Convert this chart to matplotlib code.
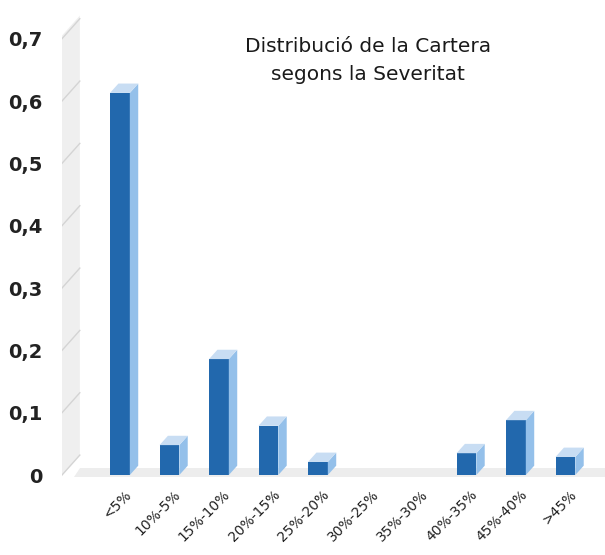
import matplotlib.pyplot as plt
from matplotlib.patches import Polygon
from matplotlib.transforms import ScaledTranslation

categories = ['<5%', '10%-5%', '15%-10%', '20%-15%', '25%-20%', '30%-25%',
              '35%-30%', '40%-35%', '45%-40%', '>45%']
values = [0.613, 0.048, 0.186, 0.079, 0.021, 0.0, 0.0, 0.035, 0.088, 0.029]
yticks = [0, 0.1, 0.2, 0.3, 0.4, 0.5, 0.6, 0.7]
ylabels = ['0', '0,1', '0,2', '0,3', '0,4', '0,5', '0,6', '0,7']
title = 'Distribució de la Cartera\nsegons la Severitat'

front = '#2268ad'
side = '#94c0ea'
top = '#c8ddf3'
wall = '#efefef'

plt.rcParams['font.family'] = ['DejaVu Sans']

fig = plt.figure(figsize=(6.05, 5.55), dpi=100)
ax = fig.add_axes([62 / 605, 65 / 555, 543 / 605, 480 / 555])
ax.set_xlim(-1.17, 9.8)
ax.set_ylim(-0.024, 0.746)
for s in ax.spines.values():
    s.set_visible(False)

# 3d-ish depth offsets (data units)
dx = 0.17
dy = 0.015
wall_w = 0.36
wall_h = 0.032
x0 = -1.17

# back wall + floor
ax.add_patch(Polygon([(x0, 0), (x0 + wall_w, wall_h), (x0 + wall_w, 0.7 + wall_h + 0.005),
                      (x0, 0.7 + 0.005)], closed=True, fc=wall, ec='none', zorder=0))
ax.add_patch(Polygon([(x0 + 0.25, -0.003), (9.8, -0.003), (9.8, 0.011), (x0 + wall_w, 0.011)],
                     closed=True, fc='#ededed', ec='none', zorder=0))
for v in yticks:
    ax.plot([x0, x0 + wall_w], [v, v + wall_h], color='#d4d4d4', lw=1, zorder=1)

# bars
w = 0.4
for i, v in enumerate(values):
    if v <= 0:
        continue
    l, r = i - w / 2, i + w / 2
    ax.bar(i, v, width=w, color=front, zorder=3)
    ax.add_patch(Polygon([(r, 0), (r + dx, dy), (r + dx, v + dy), (r, v)],
                         closed=True, fc=side, ec='none', zorder=3))
    ax.add_patch(Polygon([(l, v), (r, v), (r + dx, v + dy), (l + dx, v + dy)],
                         closed=True, fc=top, ec='none', zorder=3))

ax.set_yticks(yticks)
ax.set_yticklabels(ylabels, fontsize=14, fontweight='bold', color='#222222')
ax.tick_params(axis='y', length=0, pad=14)

ax.set_xticks(range(len(categories)))
ax.set_xticklabels(categories, rotation=45, ha='right', rotation_mode='anchor',
                   fontsize=10, color='#222222')
ax.tick_params(axis='x', length=0, pad=0)
for lab in ax.get_xticklabels():
    lab.set_transform(lab.get_transform() + ScaledTranslation(3 / 72, 2 / 72, fig.dpi_scale_trans))

fig.text(368 / 605, 1 - 61 / 555, title, ha='center', va='center', fontsize=14.5,
         linespacing=1.6, color='#1a1a1a')

plt.savefig('out.png', dpi=100)
